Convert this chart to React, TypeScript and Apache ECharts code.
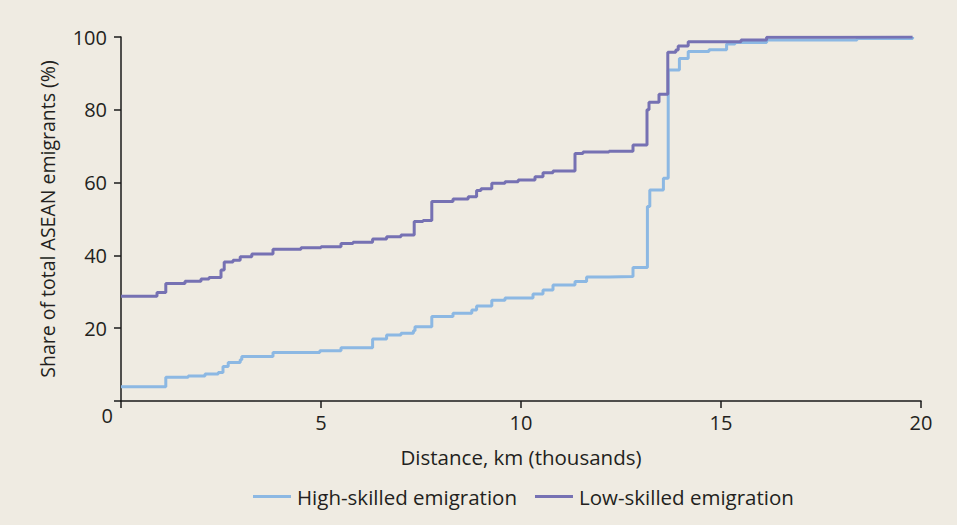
import React, { useEffect, useRef } from "react";
import * as echarts from "echarts";

const xTicks = [0, 5, 10, 15, 20];
const yTicks = [0, 20, 40, 60, 80, 100];

// [distance (thousand km), cumulative share (%)] — value holds from x onward
const highSkilled: [number, number][] = [
  [0, 3.9], [1.12, 6.5], [1.68, 6.9], [2.1, 7.4], [2.43, 7.8], [2.55, 9.5], [2.68, 10.6],
  [2.98, 11.3], [3.02, 12.2], [3.8, 13.3], [4.97, 13.8], [5.5, 14.6], [6.29, 17.0],
  [6.64, 18.1], [7.0, 18.6], [7.31, 19.3], [7.35, 20.4], [7.77, 23.2], [8.3, 24.1],
  [8.77, 25.0], [8.89, 26.1], [9.27, 27.7], [9.6, 28.3], [10.3, 29.4], [10.55, 30.5],
  [10.8, 31.9], [11.35, 32.8], [11.64, 34.1], [12.2, 34.2], [12.8, 36.7], [13.16, 53.4],
  [13.22, 58.0], [13.56, 61.2], [13.68, 90.9], [13.96, 94.1], [14.18, 96.0], [14.7, 96.5],
  [15.14, 98.1], [15.35, 98.5], [16.14, 99.2], [18.4, 99.6], [19.79, 100],
];

const lowSkilled: [number, number][] = [
  [0, 28.8], [0.9, 29.8], [1.12, 32.3], [1.6, 32.9], [2.0, 33.5], [2.2, 33.9], [2.5, 36.0],
  [2.58, 38.2], [2.8, 38.7], [2.98, 39.6], [3.27, 40.4], [3.8, 41.7], [4.5, 42.1],
  [5.0, 42.4], [5.5, 43.3], [5.8, 43.6], [6.29, 44.5], [6.64, 45.1], [7.0, 45.6],
  [7.33, 49.3], [7.55, 49.6], [7.77, 54.8], [8.3, 55.5], [8.68, 56.1], [8.89, 57.8],
  [9.0, 58.3], [9.27, 59.8], [9.6, 60.2], [9.93, 60.7], [10.35, 61.6], [10.55, 62.7],
  [10.8, 63.2], [11.35, 68.0], [11.55, 68.4], [12.2, 68.6], [12.8, 70.3], [13.15, 80.0],
  [13.2, 82.1], [13.45, 84.3], [13.67, 95.8], [13.87, 96.4], [13.93, 97.5], [14.18, 98.7],
  [15.5, 99.2], [16.14, 99.9], [18.0, 100], [19.79, 100],
];

const seriesNames = ["High-skilled emigration", "Low-skilled emigration"];
const seriesColors = ["#8CB8E3", "#7671B3"];

const FONT = "'Open Sans', Lato, sans-serif";
const TEXT = "#231F20";

export default function App() {
  const ref = useRef<HTMLDivElement>(null);
  useEffect(() => {
    if (!ref.current) return;
    const chart = echarts.init(ref.current, null, { renderer: "svg" });
    chart.setOption({
      animation: false,
      backgroundColor: "#EFEBE2",
      textStyle: { fontFamily: FONT, color: TEXT },
      grid: { left: 121, right: 36, top: 37, bottom: 124, containLabel: false },
      legend: {
        left: 248,
        top: 481,
        itemWidth: 38,
        itemHeight: 3,
        itemGap: 18,
        icon: "rect",
        textStyle: { fontFamily: FONT, fontSize: 20.5, color: TEXT, padding: [0, 0, 0, 1] },
        data: seriesNames,
      },
      xAxis: {
        type: "value",
        min: xTicks[0],
        max: xTicks[xTicks.length - 1],
        interval: 5,
        name: "Distance, km (thousands)",
        nameLocation: "middle",
        nameGap: 45,
        nameTextStyle: { fontFamily: FONT, fontSize: 20.5, color: TEXT },
        axisLine: { lineStyle: { color: "#1A1A1A", width: 1.5 } },
        axisTick: { show: true, length: 7, lineStyle: { color: "#1A1A1A", width: 1.5 } },
        splitLine: { show: false },
        axisLabel: {
          fontFamily: FONT,
          fontSize: 20,
          color: TEXT,
          margin: 11,
          formatter: (v: number) => (v === 0 ? "" : String(v)),
        },
      },
      yAxis: {
        type: "value",
        min: yTicks[0],
        max: yTicks[yTicks.length - 1],
        interval: 20,
        name: "Share of total ASEAN emigrants (%)",
        nameLocation: "middle",
        nameGap: 64,
        nameTextStyle: { fontFamily: FONT, fontSize: 19.5, color: TEXT },
        axisLine: { show: true, lineStyle: { color: "#1A1A1A", width: 1.5 } },
        axisTick: { show: true, length: 7, lineStyle: { color: "#1A1A1A", width: 1.5 } },
        splitLine: { show: false },
        axisLabel: {
          fontFamily: FONT,
          fontSize: 20,
          color: TEXT,
          margin: 8,
          formatter: (v: number) => (v === 0 ? "{z|0}" : "{a|" + v + "}"),
          rich: {
            a: { fontFamily: FONT, fontSize: 20, color: TEXT, padding: [0, 6, 0, 0] },
            z: { fontFamily: FONT, fontSize: 20, color: TEXT, padding: [28, 0, 0, 0] },
          },
        },
      },
      series: [
        {
          name: seriesNames[0],
          type: "line",
          step: "end",
          showSymbol: false,
          symbol: "none",
          data: highSkilled,
          lineStyle: { color: seriesColors[0], width: 3 },
          itemStyle: { color: seriesColors[0] },
          z: 2,
        },
        {
          name: seriesNames[1],
          type: "line",
          step: "end",
          showSymbol: false,
          symbol: "none",
          data: lowSkilled,
          lineStyle: { color: seriesColors[1], width: 3 },
          itemStyle: { color: seriesColors[1] },
          z: 3,
        },
      ],
    });
    return () => chart.dispose();
  }, []);
  return (
    <div
      ref={ref}
      style={{ position: "absolute", left: 0, top: 0, width: 957, height: 525 }}
    />
  );
}
